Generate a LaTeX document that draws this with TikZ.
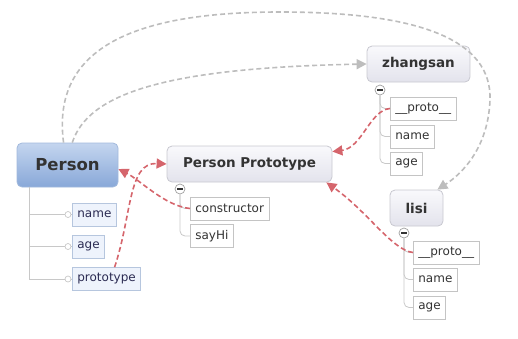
\documentclass[tikz,border=0pt]{standalone}
\usepackage{fontspec}
\setmainfont{DejaVu Sans}
\usetikzlibrary{arrows.meta, positioning, calc}
\usepackage{xcolor}
\definecolor{MapText}{HTML}{333333}
\definecolor{MapBlueTop}{HTML}{C4D5EF}
\definecolor{MapBlueBottom}{HTML}{88A8D8}
\definecolor{MapBlueEdge}{HTML}{A2B9DC}
\definecolor{MapGreyTop}{HTML}{F9F9FC}
\definecolor{MapGreyBottom}{HTML}{E3E3EC}
\definecolor{MapGreyEdge}{HTML}{C8C8D0}
\definecolor{MapLeafEdge}{HTML}{C4C4C4}
\definecolor{MapLeafBlue}{HTML}{EEF3FC}
\definecolor{MapLeafBlueEdge}{HTML}{B6C6DE}
\definecolor{MapBranch}{HTML}{C8C8C8}
\definecolor{MapRed}{HTML}{D5656C}
\definecolor{MapGrey}{HTML}{BDBDBD}
\tikzset{
    % Topic boxes - rounded corners
    central/.style={
        rectangle,
        rounded corners=5pt,
        draw=MapBlueEdge,
        top color=MapBlueTop,
        bottom color=MapBlueBottom,
        line width=0.8pt,
        minimum width=101pt,
        minimum height=44pt,
        inner sep=0pt,
        text=MapText,
        font=\bfseries\fontsize{16.5}{19}\selectfont
    },
    topic/.style={
        rectangle,
        rounded corners=5pt,
        draw=MapGreyEdge,
        top color=MapGreyTop,
        bottom color=MapGreyBottom,
        line width=0.8pt,
        minimum height=36pt,
        inner sep=0pt,
        text=MapText,
        font=\bfseries\fontsize{13.5}{16}\selectfont
    },
    % Leaf boxes - sharp corners
    leaf/.style={
        rectangle,
        draw=MapLeafEdge,
        fill=white,
        line width=0.7pt,
        minimum height=23pt,
        inner xsep=5pt,
        inner ysep=0pt,
        anchor=west,
        text=MapText,
        font=\fontsize{12}{14}\selectfont
    },
    blueleaf/.style={
        leaf,
        draw=MapLeafBlueEdge,
        fill=MapLeafBlue,
        text=MapText!85!blue
    },
    % Tree lines
    branch/.style={
        draw=MapBranch,
        line width=0.8pt,
        rounded corners=5pt
    },
    knob/.style={
        circle,
        draw=MapBranch,
        fill=white,
        line width=0.7pt,
        minimum size=6pt,
        inner sep=0pt
    },
    fold/.style={
        circle,
        draw=MapBranch!80!black,
        fill=white,
        line width=0.7pt,
        minimum size=10pt,
        inner sep=0pt,
        path picture={
            \draw[MapText, line width=1.1pt]
                ([xshift=-2.6pt]path picture bounding box.center) --
                ([xshift=2.6pt]path picture bounding box.center);
        }
    },
    % Relationship arrows - dashed curves
    protolink/.style={
        -{Triangle[length=10pt, width=10pt]},
        line width=1.6pt,
        draw=MapRed,
        dash pattern=on 5pt off 3pt
    },
    instlink/.style={
        -{Triangle[length=10pt, width=10pt]},
        line width=1.6pt,
        draw=MapGrey,
        dash pattern=on 5pt off 3pt
    }
}

\begin{document}
\begin{tikzpicture}[x=1pt, y=-1pt]
    \useasboundingbox (0,0) rectangle (518,338);

    % topics
    \node[central] (person) at (67.5,165) {Person};
    \node[topic, minimum width=165pt] (proto) at (249.5,164) {Person Prototype};
    \node[topic, minimum width=103pt] (zhang) at (418.5,64) {zhangsan};
    \node[topic, minimum width=53pt] (lisi) at (416.5,208) {lisi};

    % Person leaves
    \node[blueleaf] (pname) at (72,214.5) {name};
    \node[blueleaf] (page) at (72,246.5) {age};
    \node[blueleaf] (pproto) at (72,279) {prototype};
    \coordinate (proot) at ($(person.south west)+(13,0)$);
    \draw[branch, rounded corners=0pt] (proot) |- (pproto.west);
    \draw[branch, rounded corners=0pt] (proot) |- (pname.west);
    \draw[branch, rounded corners=0pt] (proot) |- (page.west);
    \node[knob] (pnamek) at ([xshift=-4pt]pname.west) {};
    \node[knob] (pagek) at ([xshift=-4pt]page.west) {};
    \node[knob] (pprotok) at ([xshift=-4pt]pproto.west) {};

    % Person Prototype leaves
    \node[leaf] (ctor) at (190,208.5) {constructor};
    \node[leaf] (sayhi) at (190,236) {sayHi};
    \node[fold] (protofold) at (180,189) {};
    \draw[branch] (protofold.south) |- (ctor.west);
    \draw[branch] (protofold.south) |- (sayhi.west);

    % zhangsan leaves
    \node[leaf] (zproto) at (390,108.5) {\_\_proto\_\_};
    \node[leaf] (zname) at (390,136.5) {name};
    \node[leaf] (zage) at (390,163.5) {age};
    \node[fold] (zfold) at (380,90) {};
    \draw[branch] (zfold.south) |- (zproto.west);
    \draw[branch] (zfold.south) |- (zname.west);
    \draw[branch] (zfold.south) |- (zage.west);

    % lisi leaves
    \node[leaf] (lproto) at (413,252.5) {\_\_proto\_\_};
    \node[leaf] (lname) at (413,279.5) {name};
    \node[leaf] (lage) at (413,307.5) {age};
    \node[fold] (lfold) at (404,233) {};
    \draw[branch] (lfold.south) |- (lproto.west);
    \draw[branch] (lfold.south) |- (lname.west);
    \draw[branch] (lfold.south) |- (lage.west);

    % instances
    \draw[instlink] (person.100) .. controls (50,40) and (150,12) .. (280,12)
        .. controls (420,12) and (492,40) .. (490,100)
        .. controls (488,150) and (460,175) .. ([xshift=-6pt]lisi.north east);
    \draw[instlink] (person.78) .. controls (88,95) and (160,68) .. (zhang.west);

    % prototype chain
    \draw[protolink] (zproto.west) .. controls (370,110) and (362,148) .. ([yshift=-6pt]proto.north east);
    \draw[protolink] (lproto.west) .. controls (392,250) and (368,212) .. ([xshift=-6pt]proto.south east);
    \draw[protolink] (ctor.west) .. controls (165,206) and (140,180) .. ([yshift=-4pt]person.east);
    \draw[protolink] ([xshift=8pt]pproto.north) .. controls (132,215) and (128,162) .. (proto.west);
\end{tikzpicture}
\end{document}
